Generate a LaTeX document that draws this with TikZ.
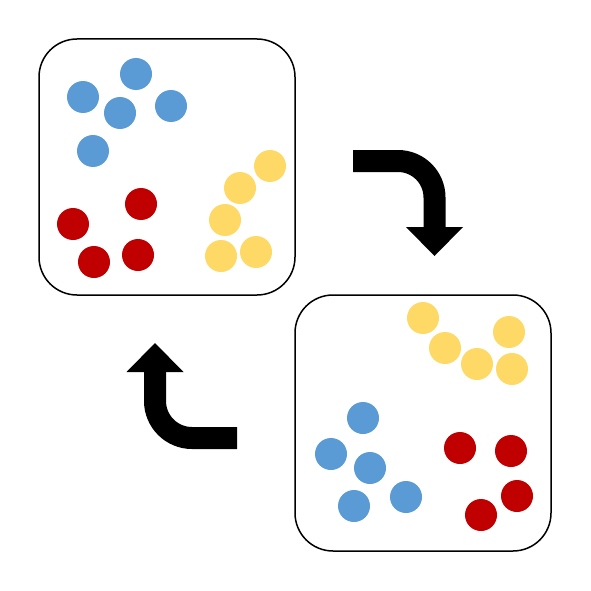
\documentclass[tikz,border=0pt]{standalone}
\definecolor{cblue}{HTML}{5B9BD5}
\definecolor{cred}{HTML}{C00000}
\definecolor{cyel}{HTML}{FFD966}
\begin{document}
\begin{tikzpicture}[x=1pt,y=-1pt,
  panel/.style={draw=black,line width=1.5pt,rounded corners=38pt},
  bdot/.style={fill=cblue},
  rdot/.style={fill=cred},
  ydot/.style={fill=cyel},
  thickarrow/.style={line width=22pt,black},
  arrowhead/.style={fill=black}]
\useasboundingbox (0,0) rectangle (591,591);
\draw[panel] (39,39) rectangle (295,295);
\draw[panel] (295,295) rectangle (551,551);
% box 1 dots
\foreach \p in {(136,74),(83,97),(120,113),(171,106),(93,151)} \fill[bdot] \p circle (16);
\foreach \p in {(73,224),(141,204),(94,262),(138,255)} \fill[rdot] \p circle (16);
\foreach \p in {(270,166),(240,188),(225,220),(221,256),(256,252)} \fill[ydot] \p circle (16);
% box 2 dots
\foreach \p in {(423,318),(445,348),(477,364),(509,332),(512,369)} \fill[ydot] \p circle (16);
\foreach \p in {(363,418),(331,454),(370,468),(354,506),(406,497)} \fill[bdot] \p circle (16);
\foreach \p in {(460,448),(511,451),(517,496),(481,515)} \fill[rdot] \p circle (16);
% arrow 1
\draw[thickarrow] (353,161) -- (398,161) arc[start angle=270,end angle=360,radius=36.5] -- (434.5,228);
\fill[arrowhead] (406,227) -- (463,227) -- (434.5,256) -- cycle;
% arrow 2
\draw[thickarrow] (237,438) -- (192,438) arc[start angle=90,end angle=180,radius=37] -- (155,371);
\fill[arrowhead] (126.5,372) -- (183.5,372) -- (155,343) -- cycle;
\end{tikzpicture}
\end{document}
